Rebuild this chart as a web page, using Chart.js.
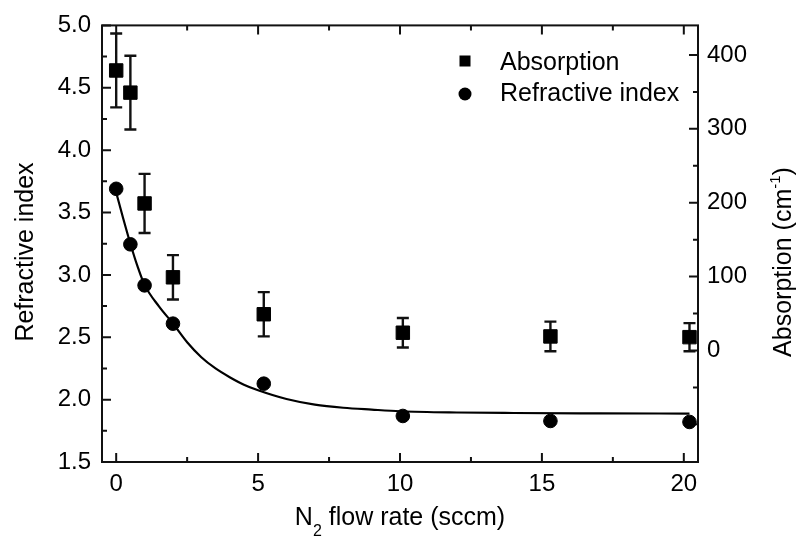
<!DOCTYPE html>
<html>
<head>
<meta charset="utf-8">
<script src="https://cdn.jsdelivr.net/npm/chart.js@4.4.1/dist/chart.umd.min.js"></script>
<style>
html,body{margin:0;padding:0;background:#fff;}
#wrap{width:802px;height:541px;position:relative;}
</style>
</head>
<body>
<div id="wrap"><canvas id="c"></canvas></div>
<script>
// ---- data ----
const flowRate = [0, 0.5, 1, 2, 5.2, 10.1, 15.3, 20.2];
const refractiveIndex = [3.69, 3.245, 2.916, 2.609, 2.128, 1.869, 1.829, 1.821];
const absorption = [379, 349, 199, 99, 49, 24, 19, 18];
const absorptionErr = [50, 50, 40, 30, 30, 20, 20, 19];

// fitted curve
const fitFlow  = [0, 0.25, 0.5, 0.75, 1, 1.5, 2, 2.5, 3, 3.5, 4, 4.5, 5, 6, 7, 8, 9, 10, 12, 14, 17, 20.2];
const fitIndex = [3.66, 3.45, 3.25, 3.07, 2.92, 2.75, 2.61, 2.46, 2.34, 2.25, 2.18, 2.12, 2.075, 2.005, 1.96, 1.935, 1.92, 1.907, 1.897, 1.893, 1.89, 1.888];

// ticks
const xTicks = [0, 5, 10, 15, 20];
const xMinorTicks = [2.5, 7.5, 12.5, 17.5];
const yTicks = [1.5, 2.0, 2.5, 3.0, 3.5, 4.0, 4.5, 5.0];
const yMinorTicks = [1.75, 2.25, 2.75, 3.25, 3.75, 4.25, 4.75];
const y2Ticks = [0, 100, 200, 300, 400];
const y2UnlabelledTicks = [-100];
const y2MinorTicks = [-50, 50, 150, 250, 350];

const FONT = '"Liberation Sans", Arial, Helvetica, sans-serif';
const INK = '#111';

Chart.defaults.font.family = FONT;
Chart.defaults.color = '#000';

const framePlugin = {
  id: 'frame',
  beforeDatasetsDraw(chart) {
    const {ctx, chartArea: a, scales} = chart;
    ctx.save();
    ctx.strokeStyle = INK;
    ctx.lineWidth = 2;
    ctx.strokeRect(a.left, a.top, a.right - a.left, a.bottom - a.top);
    ctx.lineWidth = 2;
    const MAJ = 9, MIN = 5;
    ctx.beginPath();
    const xt = (vals, len) => vals.forEach(v => {
      const px = scales.x.getPixelForValue(v);
      ctx.moveTo(px, a.bottom); ctx.lineTo(px, a.bottom - len);
      ctx.moveTo(px, a.top); ctx.lineTo(px, a.top + len);
    });
    xt(xTicks, MAJ); xt(xMinorTicks, MIN);
    const yt = (vals, len) => vals.forEach(v => {
      const py = scales.y.getPixelForValue(v);
      ctx.moveTo(a.left, py); ctx.lineTo(a.left + len, py);
    });
    yt(yTicks, MAJ); yt(yMinorTicks, MIN);
    const y2t = (vals, len) => vals.forEach(v => {
      const py = scales.y2.getPixelForValue(v);
      ctx.moveTo(a.right, py); ctx.lineTo(a.right - len, py);
    });
    y2t(y2Ticks, MAJ); y2t(y2UnlabelledTicks, MAJ); y2t(y2MinorTicks, MIN);
    ctx.stroke();

    // error bars
    ctx.lineWidth = 2.4;
    ctx.beginPath();
    const cap = 6;
    flowRate.forEach((f, i) => {
      const px = scales.x.getPixelForValue(f);
      const t = scales.y2.getPixelForValue(absorption[i] + absorptionErr[i]);
      const b = scales.y2.getPixelForValue(absorption[i] - absorptionErr[i]);
      ctx.moveTo(px, t); ctx.lineTo(px, b);
      ctx.moveTo(px - cap, t); ctx.lineTo(px + cap, t);
      ctx.moveTo(px - cap, b); ctx.lineTo(px + cap, b);
    });
    ctx.stroke();
    ctx.restore();
  },
  afterDraw(chart) {
    const {ctx, chartArea: a} = chart;
    ctx.save();
    ctx.fillStyle = '#000';
    const rich = (parts) => {
      let w = 0;
      parts.forEach(p => { ctx.font = p.size + 'px ' + FONT; p.w = ctx.measureText(p.t).width; w += p.w; });
      let x = -w / 2;
      ctx.textAlign = 'left'; ctx.textBaseline = 'alphabetic';
      parts.forEach(p => { ctx.font = p.size + 'px ' + FONT; ctx.fillText(p.t, x, p.dy || 0); x += p.w; });
    };
    // x title
    ctx.save();
    ctx.translate((a.left + a.right) / 2, 525);
    rich([{t: 'N', size: 25}, {t: '2', size: 16, dy: 11}, {t: ' flow rate (sccm)', size: 25}]);
    ctx.restore();
    // left title
    ctx.save();
    ctx.translate(33, 252);
    ctx.rotate(-Math.PI / 2);
    rich([{t: 'Refractive index', size: 25}]);
    ctx.restore();
    // right title
    ctx.save();
    ctx.translate(791, 262);
    ctx.rotate(-Math.PI / 2);
    rich([{t: 'Absorption (cm', size: 25}, {t: '-1', size: 15, dy: -11}, {t: ')', size: 25}]);
    ctx.restore();

    // legend
    ctx.fillStyle = '#000';
    ctx.fillRect(465 - 5.5, 61 - 5.5, 11, 11);
    ctx.beginPath(); ctx.arc(465, 94, 6.5, 0, Math.PI * 2); ctx.fill();
    ctx.font = '25px ' + FONT;
    ctx.textAlign = 'left'; ctx.textBaseline = 'alphabetic';
    ctx.fillText('Absorption', 500, 69.5);
    ctx.fillText('Refractive index', 500, 100.5);
    ctx.restore();
  }
};

const tickFont = {size: 24};

new Chart(document.getElementById('c'), {
  type: 'scatter',
  data: {
    datasets: [
      {
        label: 'Absorption',
        yAxisID: 'y2',
        data: flowRate.map((x, i) => ({x, y: absorption[i]})),
        pointStyle: 'rect',
        pointRadius: 9.5,
        borderWidth: 1,
        backgroundColor: '#000',
        borderColor: '#000',
        order: 0
      },
      {
        label: 'Refractive index',
        yAxisID: 'y',
        data: flowRate.map((x, i) => ({x, y: refractiveIndex[i]})),
        pointStyle: 'circle',
        pointRadius: 6.8,
        borderWidth: 1,
        backgroundColor: '#000',
        borderColor: '#000',
        order: 1
      },
      {
        label: 'fit',
        type: 'line',
        yAxisID: 'y',
        data: fitFlow.map((x, i) => ({x, y: fitIndex[i]})),
        showLine: true,
        pointRadius: 0,
        borderWidth: 2.2,
        borderColor: '#000',
        fill: false,
        cubicInterpolationMode: 'monotone',
        order: 2
      }
    ]
  },
  options: {
    responsive: true,
    maintainAspectRatio: false,
    animation: false,
    layout: {padding: {top: 25, left: 0, right: 0, bottom: 0}},
    plugins: {legend: {display: false}, tooltip: {enabled: false}},
    scales: {
      x: {
        type: 'linear', position: 'bottom', min: -0.5, max: 20.5,
        afterBuildTicks: s => { s.ticks = xTicks.map(v => ({value: v})); },
        afterFit: s => { s.height = 79; },
        ticks: {autoSkip: false, maxRotation: 0, minRotation: 0, padding: 8, font: tickFont, color: '#000',
                callback: v => String(v)},
        grid: {display: false, drawTicks: false},
        border: {display: false},
        title: {display: false}
      },
      y: {
        type: 'linear', position: 'left', min: 1.5, max: 5.0,
        afterBuildTicks: s => { s.ticks = yTicks.map(v => ({value: v})); },
        afterFit: s => { s.width = 102; },
        ticks: {autoSkip: false, padding: 11, font: tickFont, color: '#000',
                callback: v => Number(v).toFixed(1)},
        grid: {display: false, drawTicks: false},
        border: {display: false}
      },
      y2: {
        type: 'linear', position: 'right', min: -151, max: 440,
        afterBuildTicks: s => { s.ticks = y2Ticks.map(v => ({value: v})); },
        afterFit: s => { s.width = 104; },
        ticks: {autoSkip: false, padding: 9, font: tickFont, color: '#000',
                callback: v => String(v)},
        grid: {display: false, drawTicks: false},
        border: {display: false}
      }
    }
  },
  plugins: [framePlugin]
});
</script>
</body>
</html>
